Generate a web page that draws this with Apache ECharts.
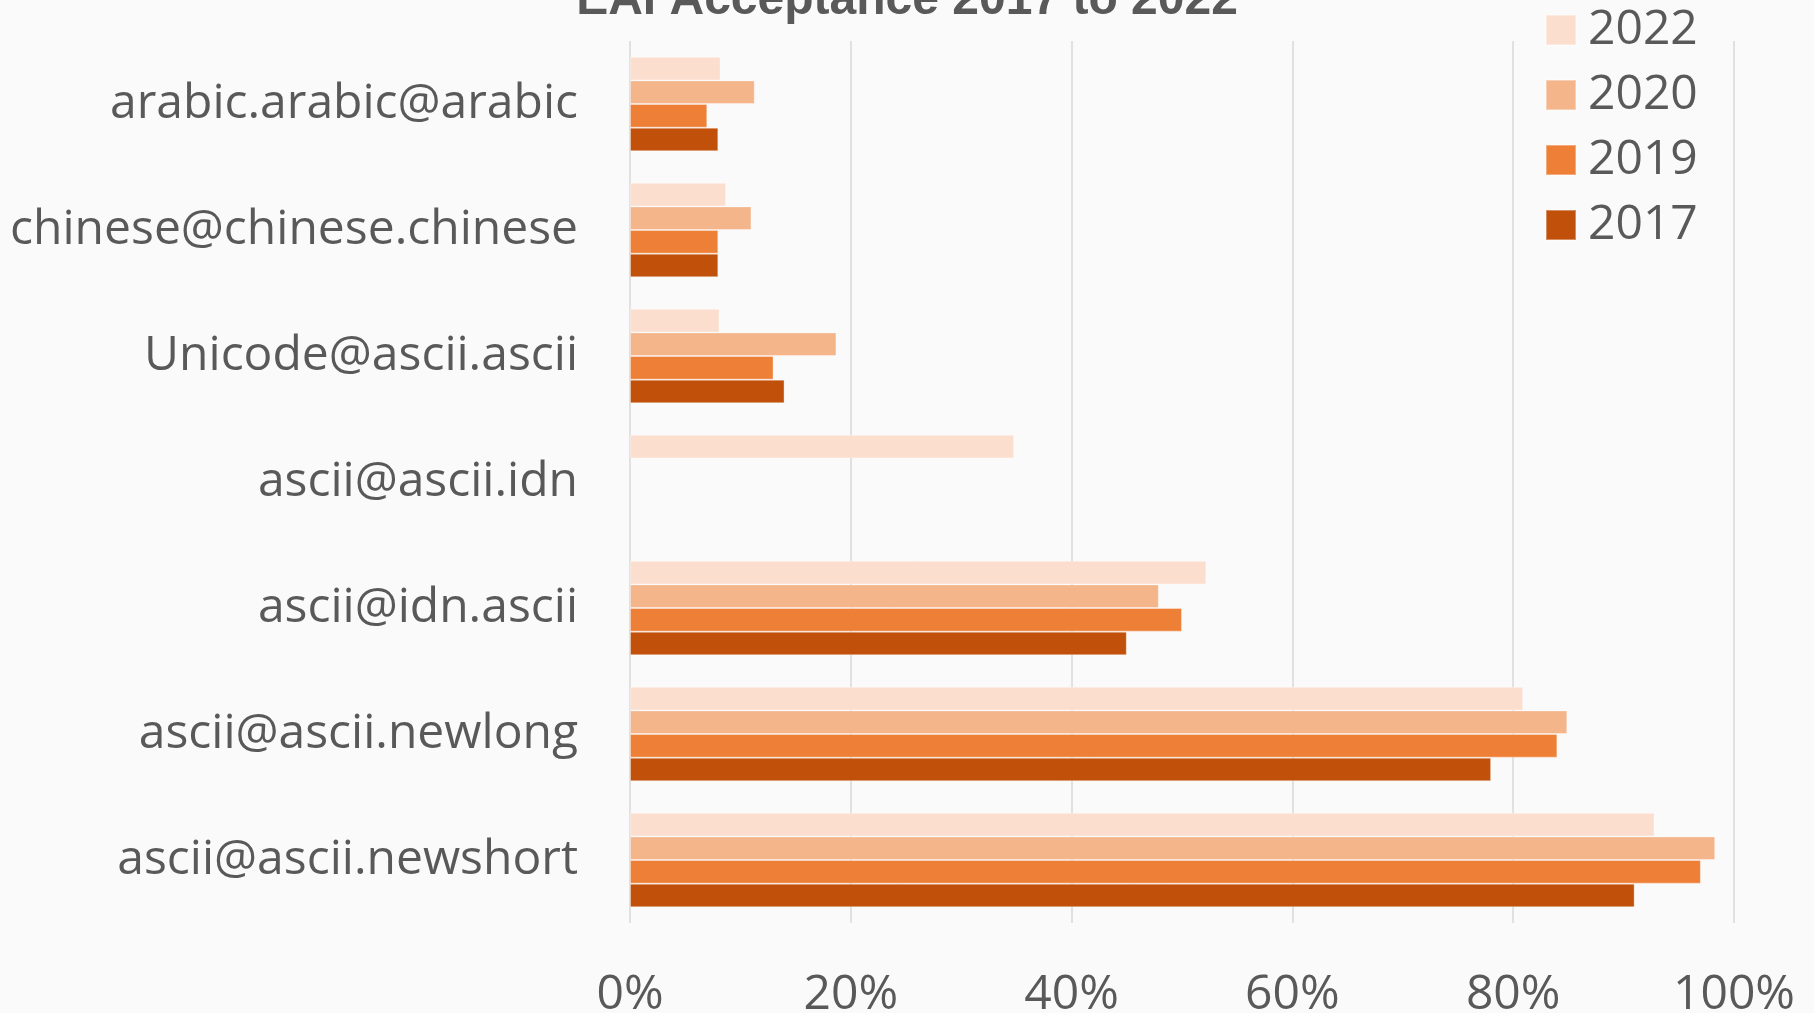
<!DOCTYPE html>
<html>
<head>
<meta charset="utf-8">
<script src="https://cdn.jsdelivr.net/npm/echarts@6/dist/echarts.min.js"></script>
<style>
html,body{margin:0;padding:0;background:#FAFAFA;}
#chart{width:1814px;height:1013px;}
</style>
</head>
<body>
<div id="chart"></div>
<script>
const categories = ['arabic.arabic@arabic','chinese@chinese.chinese','Unicode@ascii.ascii','ascii@ascii.idn','ascii@idn.ascii','ascii@ascii.newlong','ascii@ascii.newshort'];
const seriesNames = ['2022','2020','2019','2017'];
const values2022 = [8.2, 8.7, 8.1, 34.8, 52.2, 80.9, 92.8];
const values2020 = [11.3, 11.0, 18.7, null, 47.9, 84.9, 98.3];
const values2019 = [7.0, 8.0, 13.0, null, 50.0, 84.0, 97.0];
const values2017 = [8.0, 8.0, 14.0, null, 45.0, 78.0, 91.0];
const xTicks = [0, 20, 40, 60, 80, 100];
const colors = ['#FBDECE', '#F4B58B', '#EE7F36', '#C1500A'];

const allValues = [values2022, values2020, values2019, values2017];
const textColor = '#595959';
const font = 'Open Sans';

const chart = echarts.init(document.getElementById('chart'));
chart.setOption({
  backgroundColor: '#FAFAFA',
  animation: false,
  title: {
    text: 'EAI Acceptance 2017 to 2022',
    left: 'center',
    top: -28,
    textStyle: {fontFamily: 'Liberation Sans', fontWeight: 'bold', fontSize: 48, color: textColor}
  },
  legend: {
    orient: 'vertical',
    left: 1540,
    top: 1,
    itemWidth: 30,
    itemHeight: 30,
    itemGap: 17,
    icon: 'rect',
    data: seriesNames,
    textStyle: {fontFamily: font, fontSize: 48, color: textColor, padding: [0, 0, 0, 7]}
  },
  grid: {left: 630, right: 80, top: 41, bottom: 90, containLabel: false, outerBoundsMode: 'none'},
  xAxis: {
    type: 'value',
    min: xTicks[0],
    max: xTicks[xTicks.length - 1],
    interval: 20,
    axisLine: {show: false},
    axisTick: {show: false},
    splitLine: {lineStyle: {color: '#D9D9D9', width: 1.5}},
    axisLabel: {fontFamily: font, fontSize: 48, color: textColor, margin: 48, formatter: v => v + '%'}
  },
  yAxis: {
    type: 'category',
    data: categories,
    inverse: true,
    axisLine: {show: false},
    axisTick: {show: false},
    axisLabel: {fontFamily: font, fontSize: 48, color: textColor, margin: 52}
  },
  series: seriesNames.map((name, i) => ({
    name: name,
    type: 'bar',
    data: allValues[i],
    barGap: '0%',
    barCategoryGap: '25%',
    itemStyle: {color: colors[i], borderColor: 'rgba(255,255,255,0.35)', borderWidth: 1}
  }))
});
</script>
</body>
</html>
